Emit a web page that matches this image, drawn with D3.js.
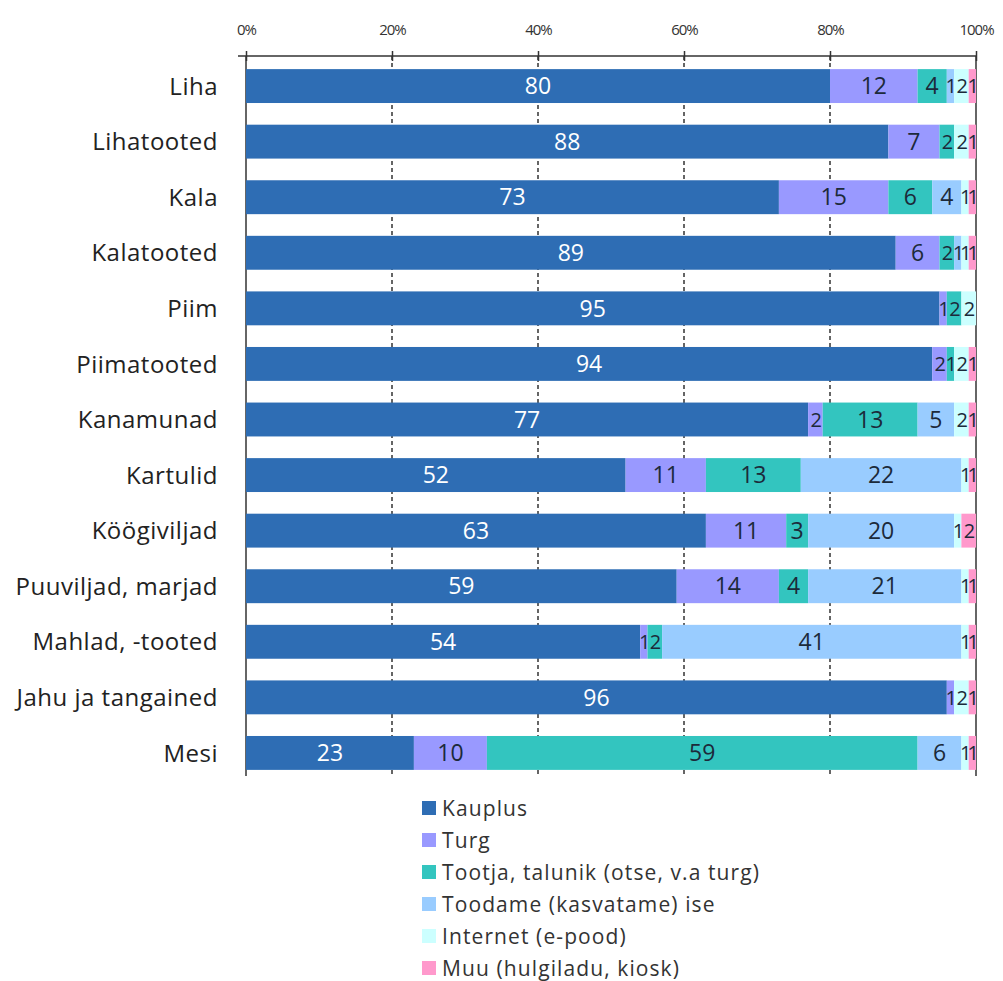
<!DOCTYPE html>
<html><head><meta charset="utf-8">
<script src="https://cdn.jsdelivr.net/npm/d3@7"></script>
<style>body{margin:0;background:#fff}svg{display:block}</style>
</head><body>
<svg id="c" width="1003" height="981"></svg>
<script>
const categories = ["Liha","Lihatooted","Kala","Kalatooted","Piim","Piimatooted","Kanamunad","Kartulid","Köögiviljad","Puuviljad, marjad","Mahlad, -tooted","Jahu ja tangained","Mesi"];
const seriesNames = ["Kauplus","Turg","Tootja, talunik (otse, v.a turg)","Toodame (kasvatame) ise","Internet (e-pood)","Muu (hulgiladu, kiosk)"];
const kauplus = [80,88,73,89,95,94,77,52,63,59,54,96,23];
const turg    = [12, 7,15, 6, 1, 2, 2,11,11,14, 1, 1,10];
const tootja  = [ 4, 2, 6, 2, 2, 1,13,13, 3, 4, 2, 0,59];
const toodame = [ 1, 0, 4, 1, 0, 0, 5,22,20,21,41, 0, 6];
const internet= [ 2, 2, 1, 1, 2, 2, 2, 1, 1, 1, 1, 2, 1];
const muu     = [ 1, 1, 1, 1, 0, 1, 1, 1, 2, 1, 1, 1, 1];
const tickLabels = ["0%","20%","40%","60%","80%","100%"];
const colors = ["#2e6db4","#9999ff","#33c5bf","#99ccff","#ccffff","#ff99cc"];
const series = [kauplus,turg,tootja,toodame,internet,muu];

const svg = d3.select("#c");
const x = d3.scaleLinear().domain([0,100]).range([246,976]);
const y = d3.scaleBand().domain(categories).range([58,781]).paddingInner(0.39).paddingOuter(0.2);
const font = "'Open Sans', sans-serif";

// gridlines
const gy0 = 56, gy1 = 776;
svg.append("g").selectAll("line").data([20,40,60,80]).join("line")
  .attr("x1",d=>x(d)).attr("x2",d=>x(d)).attr("y1",gy0).attr("y2",gy1)
  .attr("stroke","#333").attr("stroke-width",1.5).attr("stroke-dasharray","4,3");
svg.append("line").attr("x1",x(100)).attr("x2",x(100)).attr("y1",gy0).attr("y2",gy1)
  .attr("stroke","#333").attr("stroke-width",1.5);
svg.append("line").attr("x1",x(0)).attr("x2",x(0)).attr("y1",gy0).attr("y2",gy1)
  .attr("stroke","#333").attr("stroke-width",1.5);

// top axis
const axis = d3.axisTop(x).tickValues([0,20,40,60,80,100]).tickFormat((d,i)=>tickLabels[i]).tickSize(5).tickSizeOuter(0);
const ag = svg.append("g").attr("transform",`translate(0,${gy0})`).call(axis);
ag.select(".domain").attr("stroke","#333").attr("stroke-width",1.5).attr("d",`M${x(0)-8},0H${x(100)}`);
ag.selectAll(".tick line").attr("stroke","#333").attr("stroke-width",1.5).attr("y2",-5).clone().attr("y2",5);
ag.selectAll(".tick text").attr("y",-21).attr("font-family",font).attr("font-size",15).attr("fill","#333").attr("letter-spacing","-1");

// stacked bars
const rows = categories.map((c,i)=>{ let acc=0; return series.map((s,k)=>{ const v=s[i]; const r={cat:c,k,v,x0:acc,x1:acc+v}; acc+=v; return r;}); });
const g = svg.append("g");
rows.forEach(r=>{
  g.selectAll(null).data(r.filter(d=>d.v>0)).join("rect")
    .attr("x",d=>x(d.x0)).attr("width",d=>x(d.x1)-x(d.x0))
    .attr("y",d=>y(d.cat)).attr("height",y.bandwidth())
    .attr("fill",d=>colors[d.k]);
});
rows.forEach(r=>{
  g.selectAll(null).data(r.filter(d=>d.v>0)).join("text")
    .attr("x",d=>(x(d.x0)+x(d.x1))/2).attr("y",d=>y(d.cat)+y.bandwidth()/2)
    .attr("dy","0.36em").attr("text-anchor","middle")
    .attr("font-family",font).attr("font-size",d=>d.v<3?20:23)
    .attr("letter-spacing",d=>d.v<3?"-1.5":"0")
    .attr("fill",d=>d.k===0?"#fff":"#1c2a3a").text(d=>d.v);
});

// category labels
svg.append("g").selectAll("text").data(categories).join("text")
  .attr("x",218).attr("y",d=>y(d)+y.bandwidth()/2).attr("dy","0.36em")
  .attr("text-anchor","end").attr("font-family",font).attr("font-size",24).attr("letter-spacing","0.5").attr("fill","#222").text(d=>d);

// legend
const lg = svg.append("g").attr("transform","translate(422,808)");
seriesNames.forEach((n,i)=>{
  lg.append("rect").attr("x",0).attr("y",i*32-7).attr("width",14).attr("height",14).attr("fill",colors[i]);
  lg.append("text").attr("x",20).attr("y",i*32).attr("dy","0.36em").attr("font-family",font).attr("font-size",21).attr("letter-spacing","1.1").attr("fill","#333").text(n);
});
</script>
</body></html>
